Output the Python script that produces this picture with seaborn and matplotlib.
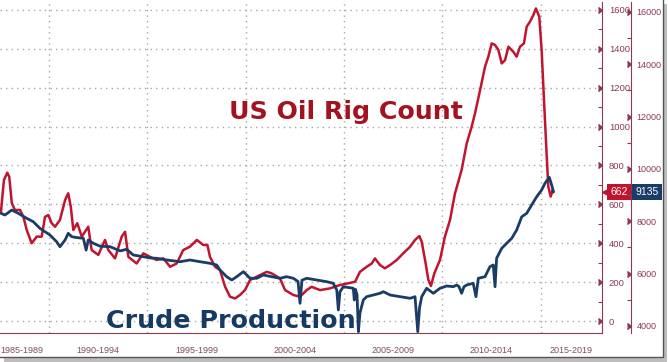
import numpy as np
import pandas as pd
import matplotlib.pyplot as plt
import matplotlib.transforms as mtransforms
from matplotlib.patches import Rectangle
from matplotlib.ticker import MultipleLocator
import seaborn as sns

# US oil rig count (left scale, inner axis)
rig_years = [1987.55, 1987.62, 1987.70, 1987.87, 1987.97, 1988.10, 1988.26, 1988.52, 1988.69, 1988.86,
             1989.11, 1989.37, 1989.62, 1989.79, 1989.96, 1990.13, 1990.30, 1990.55, 1990.81, 1990.97,
             1991.10, 1991.23, 1991.43, 1991.66, 1991.99, 1992.16, 1992.50, 1992.84, 1993.01, 1993.35,
             1993.69, 1993.86, 1994.03, 1994.45, 1994.79, 1995.13, 1995.47, 1995.81, 1996.15, 1996.49,
             1996.82, 1997.16, 1997.51, 1997.84, 1998.05, 1998.18, 1998.44, 1998.69, 1998.95, 1999.20,
             1999.45, 1999.71, 1999.96, 2000.22, 2000.56, 2001.07, 2001.32, 2001.74, 2002.00, 2002.42,
             2002.76, 2003.10, 2003.35, 2003.78, 2004.29, 2004.79, 2005.22, 2005.56, 2005.81, 2006.15,
             2006.41, 2006.57, 2006.83, 2007.08, 2007.34, 2007.68, 2008.01, 2008.36, 2008.61, 2008.83,
             2008.95, 2009.12, 2009.29, 2009.42, 2009.59, 2009.88, 2010.13, 2010.39, 2010.64, 2010.98,
             2011.24, 2011.49, 2011.66, 2011.92, 2012.17, 2012.34, 2012.51, 2012.68, 2012.85, 2013.02,
             2013.19, 2013.36, 2013.61, 2013.78, 2013.95, 2014.15, 2014.29, 2014.46, 2014.63, 2014.76,
             2014.93, 2015.05, 2015.17, 2015.31, 2015.39, 2015.51, 2015.61, 2015.65]
rig_count = [562, 640, 725, 763, 742, 607, 571, 571, 536, 468,
             400, 434, 434, 536, 545, 503, 485, 520, 622, 657,
             588, 468, 503, 434, 485, 365, 340, 417, 365, 322,
             434, 459, 330, 296, 348, 330, 314, 322, 279, 296,
             365, 382, 417, 391, 391, 330, 279, 262, 176, 125,
             116, 134, 159, 211, 228, 253, 245, 219, 159, 134,
             125, 159, 176, 159, 168, 185, 194, 202, 253, 279,
             296, 322, 288, 271, 288, 314, 348, 382, 417, 437,
             408, 314, 211, 180, 245, 314, 434, 520, 655, 777,
             914, 999, 1068, 1188, 1308, 1360, 1428, 1420, 1394, 1325,
             1342, 1411, 1385, 1360, 1411, 1428, 1514, 1540, 1574, 1608,
             1565, 1394, 1137, 845, 691, 640, 674, 662]

# US crude production, thousand barrels/day (outer axis)
prod_years = [1987.55, 1987.75, 1988.10, 1988.43, 1988.86, 1989.19, 1989.53, 1990.04, 1990.38, 1990.55,
              1990.81, 1990.97, 1991.15, 1991.40, 1991.74, 1991.88, 1991.99, 1992.25, 1992.59, 1993.10,
              1993.61, 1993.94, 1994.28, 1994.79, 1995.13, 1995.47, 1995.98, 1996.66, 1997.16, 1997.67,
              1998.18, 1998.52, 1998.69, 1999.03, 1999.29, 1999.54, 1999.88, 2000.22, 2000.56, 2000.89,
              2001.32, 2001.74, 2002.08, 2002.42, 2002.66, 2002.76, 2002.86, 2003.10, 2003.61, 2004.12,
              2004.45, 2004.63, 2004.71, 2004.79, 2004.96, 2005.47, 2005.52, 2005.58, 2005.66, 2005.73,
              2005.81, 2005.98, 2006.15, 2006.49, 2006.83, 2007.00, 2007.34, 2007.85, 2008.36, 2008.61,
              2008.75, 2008.84, 2008.95, 2009.20, 2009.54, 2009.88, 2010.22, 2010.56, 2010.73, 2010.85,
              2010.98, 2011.10, 2011.24, 2011.57, 2011.71, 2011.83, 2012.17, 2012.42, 2012.59, 2012.68,
              2012.76, 2013.02, 2013.27, 2013.53, 2013.78, 2014.04, 2014.29, 2014.54, 2014.80, 2015.05,
              2015.22, 2015.44, 2015.56, 2015.65]
prod_kbd = [8306, 8241, 8432, 8306, 8115, 7986, 7733, 7477, 7221, 7030,
            7286, 7542, 7412, 7380, 7351, 6900, 7286, 7160, 7050, 7030,
            6870, 6930, 6713, 6648, 6600, 6587, 6522, 6457, 6522, 6457,
            6396, 6331, 6140, 5884, 5758, 5884, 6075, 5823, 5823, 5949,
            5884, 5823, 5884, 5823, 5700, 4867, 5750, 5823, 5758, 5693,
            5632, 5376, 4611, 5300, 5502, 5441, 4994, 5400, 5200, 3782,
            4500, 4994, 5120, 5185, 5250, 5311, 5185, 5120, 5058, 5120,
            3782, 4700, 5120, 5441, 5250, 5441, 5529, 5502, 5567, 5500,
            5250, 5500, 5567, 5632, 5120, 5823, 5884, 6266, 6331, 5502,
            6587, 6969, 7160, 7351, 7668, 8176, 8306, 8624, 8941, 9197,
            9453, 9682, 9388, 9135]

period_starts = [1985, 1990, 1995, 2000, 2005, 2010, 2015]
period_labels = ['1985-1989', '1990-1994', '1995-1999', '2000-2004',
                 '2005-2009', '2010-2014', '2015-2019']
rig_ticks = [0, 200, 400, 600, 800, 1000, 1200, 1400, 1600]
prod_ticks = [4000, 6000, 8000, 10000, 12000, 14000, 16000]
last_rig = 662
last_prod = 9135

RED = '#c0142f'
NAVY = '#1a3c66'
MAROON = '#8c3a52'

sns.set_style('white')
plt.rcParams['font.family'] = ['Liberation Sans', 'DejaVu Sans']

W, H = 668, 362
fig = plt.figure(figsize=(W / 100, H / 100), dpi=100)
fig.patch.set_facecolor('white')

# picture frame with drop shadow
fig.patches.append(Rectangle((4 / W, -4 / H), 663 / W, 1.0, transform=fig.transFigure,
                             facecolor='#bdbdbd', edgecolor='none', zorder=-3))
fig.patches.append(Rectangle((-0.01, (H - 357) / H), 663 / W + 0.01, 1.0, transform=fig.transFigure,
                             facecolor='white', edgecolor='#555555', linewidth=1.0, zorder=-2))

ax = fig.add_axes([0, (H - 333) / H, 602 / W, 331 / H])
ax.set_facecolor('none')
ax2 = ax.twinx()

rig = pd.DataFrame({'year': rig_years, 'rigs': rig_count})
prod = pd.DataFrame({'year': prod_years, 'prod': prod_kbd})
sns.lineplot(data=rig, x='year', y='rigs', ax=ax, color=RED, linewidth=1.8, sort=False)
sns.lineplot(data=prod, x='year', y='prod', ax=ax2, color=NAVY, linewidth=2.0, sort=False)

x0, x1 = 1987.5, 1987.5 + 602 / 19.66
ax.set_xlim(x0, x1)
ax.set_ylim(-61.7, 1641)
ax2.set_ylim(3732, 16382)
ax.set_xlabel('')
ax.set_ylabel('')
ax2.set_ylabel('')

# grid
for v in rig_ticks:
    ax.axhline(v, color='#a8a8a8', linestyle=(0, (1, 3)), linewidth=1.0, zorder=0)
for s in period_starts[1:]:
    ax.axvline(s, color='#a8a8a8', linestyle=(0, (1, 3)), linewidth=1.0, zorder=0)

# spines
for a in (ax, ax2):
    a.spines['left'].set_visible(False)
    a.spines['top'].set_visible(False)
ax2.spines['bottom'].set_visible(False)
ax.spines['right'].set_color(MAROON)
ax.spines['bottom'].set_color(MAROON)
ax2.spines['right'].set_color(MAROON)
ax2.spines['right'].set_position(('axes', 631 / 602))

# x axis: dividers every five years, small ticks every year
ax.set_xticks(period_starts[1:])
ax.xaxis.set_minor_locator(MultipleLocator(1))
ax.tick_params(axis='x', which='major', direction='out', length=18, width=0.8,
               color='#9a9a9a', labelbottom=False)
ax.tick_params(axis='x', which='minor', direction='in', length=3, width=0.8, color=MAROON)
for s, lab in zip(period_starts, period_labels):
    lo, hi = max(s, x0), min(s + 5, x1)
    xc = (lo + hi) / 2
    if s < x0:
        xc = x0 + 22 / 19.66
    ax.text(xc, -0.052, lab, transform=ax.get_xaxis_transform(),
            ha='center', va='center', fontsize=6.5, color='#7a4e5c')

# y axes
ax.yaxis.tick_right()
ax.set_yticks(rig_ticks)
ax.yaxis.set_minor_locator(MultipleLocator(100))
ax.tick_params(axis='y', which='major', length=0, pad=5, labelsize=6.8, labelcolor=MAROON)
ax.tick_params(axis='y', which='minor', direction='in', length=3, width=0.8, color=MAROON)
ax2.set_yticks(prod_ticks)
ax2.yaxis.set_minor_locator(MultipleLocator(1000))
ax2.tick_params(axis='y', which='major', length=0, pad=4, labelsize=6.5, labelcolor=MAROON)
ax2.tick_params(axis='y', which='minor', direction='in', length=3, width=0.8, color=MAROON)

tr1 = mtransforms.blended_transform_factory(ax.transAxes, ax.transData)
tr2 = mtransforms.blended_transform_factory(ax2.transAxes, ax2.transData)
ax.plot([1.0] * len(rig_ticks), rig_ticks, linestyle='none', marker=5, markersize=4,
        color=MAROON, transform=tr1, clip_on=False)
ax2.plot([631 / 602] * len(prod_ticks), prod_ticks, linestyle='none', marker=5, markersize=4,
         color=MAROON, transform=tr2, clip_on=False)

# last value tags
ax.plot([605 / 602], [last_rig], marker='<', markersize=5, color=RED, transform=tr1,
        clip_on=False, zorder=5)
ax.text(619 / 602, last_rig, str(last_rig), transform=tr1, ha='center', va='center',
        fontsize=7.5, color='white', zorder=6,
        bbox=dict(boxstyle='square,pad=0.3', facecolor=RED, edgecolor='none'))
ax2.plot([634 / 602], [last_prod], marker='<', markersize=5, color=NAVY, transform=tr2,
         clip_on=False, zorder=5)
ax2.text(647 / 602, last_prod, str(last_prod), transform=tr2, ha='center', va='center',
         fontsize=7.5, color='white', zorder=6,
         bbox=dict(boxstyle='square,pad=0.3', facecolor=NAVY, edgecolor='none'))

# series names
fig.text(346 / W, 1 - 112 / H, 'US Oil Rig Count', ha='center', va='center',
         fontsize=18.2, fontweight='bold', color='#a3121f', family='DejaVu Sans')
fig.text(231 / W, 1 - 321 / H, 'Crude Production', ha='center', va='center',
         fontsize=18.3, fontweight='bold', color='#163a64', family='DejaVu Sans')

fig.savefig('out.png', dpi=100, facecolor='white')
